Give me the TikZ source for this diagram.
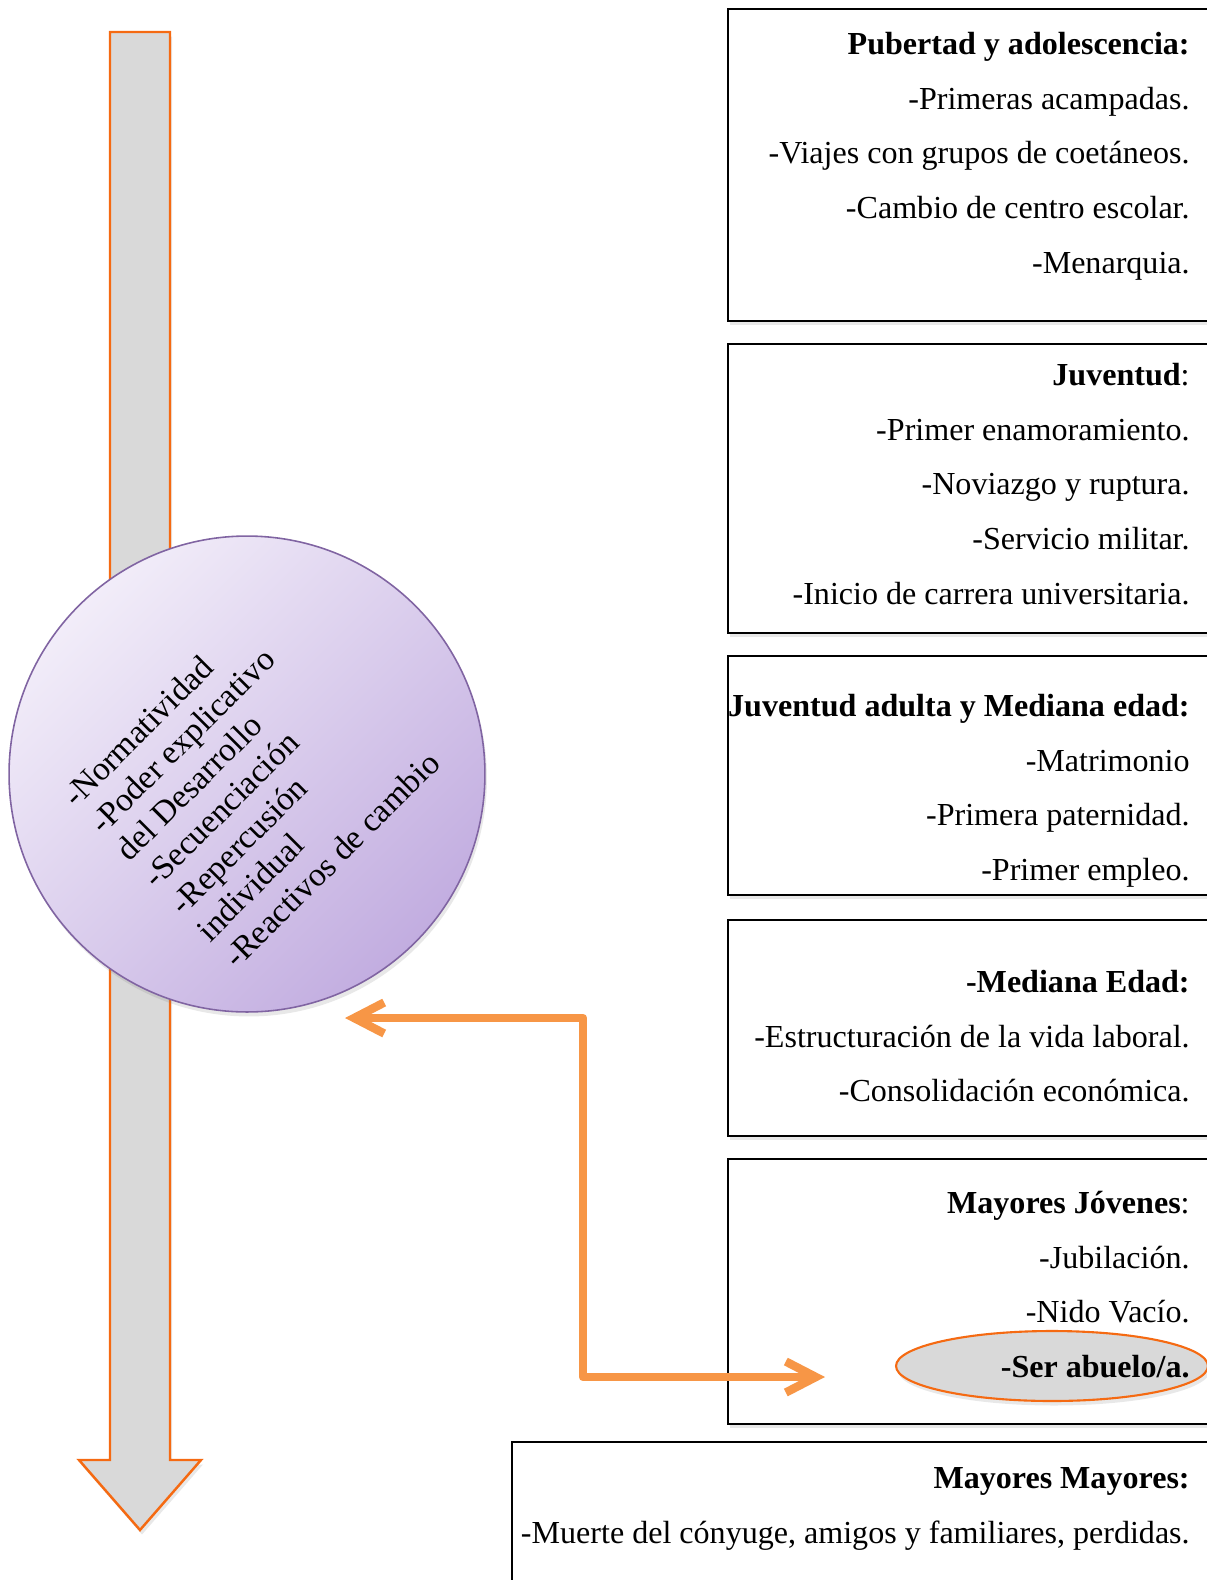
\documentclass[tikz,border=0pt]{standalone}
\usepackage{fontspec}
\setmainfont{Liberation Serif}
\usetikzlibrary{arrows.meta,shadows,shapes.geometric}

\definecolor{linkorange}{HTML}{F79646}
\definecolor{edgeorange}{HTML}{F56A12}
\definecolor{bargrey}{HTML}{D9D9D9}
\definecolor{lilaclight}{HTML}{F2EDF9}
\definecolor{lilacdark}{HTML}{C2ADE0}
\definecolor{lilacedge}{HTML}{8064A2}

\newcommand{\linetop}{\rule{0pt}{0.5cm}}

\begin{document}
\begin{tikzpicture}[x=0.02cm, y=-0.02cm,
    softshadow/.style={drop shadow={shadow xshift=0.4mm, shadow yshift=-0.9mm, opacity=0.18}},
    stagebox/.style={draw, line width=1.1pt, fill=white, anchor=north west, inner sep=0pt,
      minimum width=10cm, softshadow},
    stagetext/.style={anchor=north east, align=right, inner sep=0pt, font=\fontsize{18.25}{31.2}\selectfont},
    link/.style={linkorange, line width=4.8pt, line join=round, line cap=round,
      {Straight Barb[length=0.6cm,width=0.62cm]}-{Straight Barb[length=0.6cm,width=0.62cm]}}]
  \useasboundingbox (0,0) rectangle (1207,1580);
  \clip (0,0) rectangle (1207,1580);

  % time axis
  \draw[edgeorange, line width=1.4pt, fill=bargrey, softshadow]
    (110,32) -- (170,32) -- (170,1460) -- (201,1460) -- (140,1530) -- (79,1460) -- (110,1460) -- cycle;

  % stage boxes
  \node[stagebox, minimum height=6.24cm] (pubertad) at (727,8) {};
  \node[stagebox, minimum height=5.78cm] (juventud) at (727,343) {};
  \node[stagebox, minimum height=4.78cm] (adulta) at (727,655) {};
  \node[stagebox, minimum height=4.32cm] (mediana) at (727,919) {};
  \node[stagebox, minimum height=5.3cm] (jovenes) at (727,1158) {};
  \node[stagebox, minimum height=4cm, minimum width=14.4cm] (mayores) at (511,1441) {};

  \node[ellipse, draw=edgeorange, line width=1.2pt, fill=bargrey, minimum width=6.24cm,
    minimum height=1.4cm, softshadow] (abuelo) at (1052,1366) {};

  % criteria
  \node[circle, draw=lilacedge, line width=0.9pt, top color=lilaclight, bottom color=lilacdark,
    shading angle=45, minimum size=9.52cm, softshadow] (hitos) at (247,774) {};
  \node[rotate=45, align=left, font=\fontsize{19}{21.6}\selectfont] (criterios) at (251,779)
    {-Normatividad\\-Poder explicativo\\del Desarrollo\\-Secuenciación\\-Repercusión\\individual\\-Reactivos de cambio};

  \coordinate (linkA) at (345,1018);
  \coordinate (bend) at (583,1200);
  \coordinate (linkB) at (825,1377);
  \draw[link] (linkA) -| (bend) |- (linkB);

  % stage texts
  \node[stagetext] (pubertadtxt) at (1190,29) {\linetop\textbf{Pubertad y adolescencia:}\\-Primeras acampadas.\\
    -Viajes con grupos de coetáneos.\\-Cambio de centro escolar.\\-Menarquia.};
  \node[stagetext] (juventudtxt) at (1190,360) {\linetop\textbf{Juventud}:\\-Primer enamoramiento.\\
    -Noviazgo y ruptura.\\-Servicio militar.\\-Inicio de carrera universitaria.};
  \node[stagetext] (adultatxt) at (1190,691) {\linetop\textbf{Juventud adulta y Mediana edad:}\\-Matrimonio\\
    -Primera paternidad.\\-Primer empleo.};
  \node[stagetext] (medianatxt) at (1190,967) {\linetop\textbf{-Mediana Edad:}\\
    -Estructuración de la vida laboral.\\-Consolidación económica.};
  \node[stagetext] (jovenestxt) at (1190,1188) {\linetop\textbf{Mayores Jóvenes}:\\-Jubilación.\\
    -Nido Vacío.\\\textbf{-Ser abuelo/a.}};
  \node[stagetext] (mayorestxt) at (1190,1463) {\linetop\textbf{Mayores Mayores:}\\
    -Muerte del cónyuge, amigos y familiares, perdidas.};
\end{tikzpicture}
\end{document}
